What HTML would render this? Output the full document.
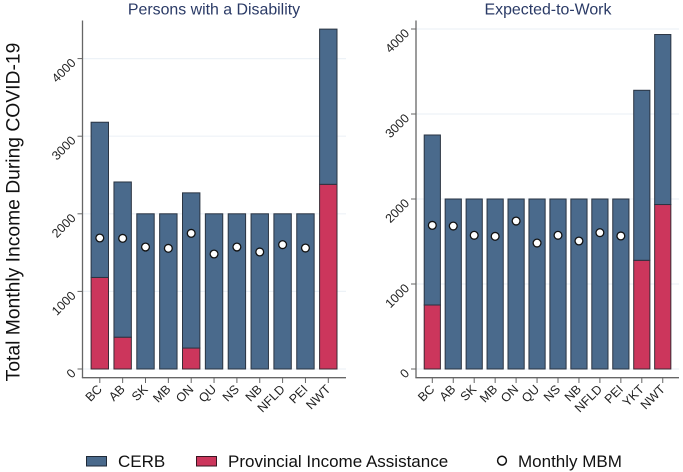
<!DOCTYPE html>
<html>
<head>
<meta charset="utf-8">
<title>Total Monthly Income During COVID-19</title>
<style>
html,body{margin:0;padding:0;background:#fff;width:683px;height:472px;overflow:hidden}
svg{display:block}
text{font-family:"Liberation Sans",Arial,sans-serif}
</style>
</head>
<body>
<svg id="chart" width="683" height="472" viewBox="0 0 683 472" xmlns="http://www.w3.org/2000/svg">
  <text transform="translate(19.5,212) rotate(-90)" text-anchor="middle" font-size="19.3" fill="#111">Total Monthly Income During COVID-19</text>
  <g>
    <rect x="86.5" y="456.5" width="20" height="9.5" fill="#4a6a8c" stroke="#1f2a38" stroke-width="1"/>
    <text x="118" y="467" font-size="17" fill="#111">CERB</text>
    <rect x="196.5" y="456.5" width="20" height="9.5" fill="#cc365c" stroke="#3a1522" stroke-width="1"/>
    <text x="228" y="467" font-size="17" fill="#111">Provincial Income Assistance</text>
    <circle cx="502" cy="460.7" r="4.4" fill="#fff" stroke="#111" stroke-width="1.5"/>
    <text x="518" y="467" font-size="17" fill="#111">Monthly MBM</text>
  </g>
</svg>
<script>
var ticks = [0, 1000, 2000, 3000, 4000];

var disabilityCategories = ['BC','AB','SK','MB','ON','QU','NS','NB','NFLD','PEI','NWT'];
var disabilityCerb = [2000, 2000, 2000, 2000, 2000, 2000, 2000, 2000, 2000, 2000, 2000];
var disabilityProvincial = [1180, 410, 0, 0, 270, 0, 0, 0, 0, 0, 2380];
var disabilityMbm = [1688, 1684, 1572, 1555, 1748, 1482, 1572, 1508, 1602, 1559, null];

var workCategories = ['BC','AB','SK','MB','ON','QU','NS','NB','NFLD','PEI','YKT','NWT'];
var workCerb = [2000, 2000, 2000, 2000, 2000, 2000, 2000, 2000, 2000, 2000, 2000, 2000];
var workProvincial = [753, 0, 0, 0, 0, 0, 0, 0, 0, 0, 1279, 1935];
var workMbm = [1690, 1682, 1573, 1561, 1741, 1482, 1573, 1506, 1604, 1565, null, null];

var svg = document.getElementById('chart');
var NS = 'http://www.w3.org/2000/svg';

function make(parent, tag, attrs) {
  var el = document.createElementNS(NS, tag);
  for (var k in attrs) el.setAttribute(k, attrs[k]);
  parent.appendChild(el);
  return el;
}

function drawPanel(cfg) {
  var g = make(svg, 'g', {});
  
  

  function yScale(v) { return cfg.y0 - v * cfg.pxPerUnit; }
  function xScale(i) { return cfg.firstCenter + i * cfg.step; }

  var title = make(g, 'text', {x: cfg.titleX, y: 14.5, 'text-anchor': 'middle', 'font-size': 15.9, fill: '#2a3a66'});
  
  
  title.textContent = cfg.title;

  ticks.forEach(function (t) {
    var y = yScale(t);
    var grid = make(g, 'line', {x1: cfg.axisX, x2: cfg.axisEnd, y1: y, y2: y, stroke: '#edf2f7', 'stroke-width': 1.2});
    
    
  });

  cfg.categories.forEach(function (cat, i) {
    var cx = xScale(i), left = cx - cfg.barWidth / 2;
    var prov = cfg.provincial[i], cerb = cfg.cerb[i];
    if (prov > 0) {
      var pb = make(g, 'rect', {x: left, y: yScale(prov), width: cfg.barWidth, height: yScale(0) - yScale(prov), fill: '#cc365c', stroke: '#3a2a35', 'stroke-width': 1});
      
      
    }
    var cb = make(g, 'rect', {x: left, y: yScale(prov + cerb), width: cfg.barWidth, height: yScale(prov) - yScale(prov + cerb), fill: '#4a6a8c', stroke: '#2a3442', 'stroke-width': 1});
    
    
  });

  cfg.categories.forEach(function (cat, i) {
    if (cfg.mbm[i] === null) return;
    var dot = make(g, 'circle', {cx: xScale(i), cy: yScale(cfg.mbm[i]), r: 3.9, fill: '#fff', stroke: '#111', 'stroke-width': 1.3});
    
    
  });

  var yAxis = make(g, 'line', {x1: cfg.axisX, x2: cfg.axisX, y1: 20.5, y2: 378, stroke: '#666', 'stroke-width': 1.3});
  
  
  var xAxis = make(g, 'line', {x1: cfg.axisX - 0.6, x2: cfg.axisEnd, y1: 377.7, y2: 377.7, stroke: '#666', 'stroke-width': 1.3});
  
  

  ticks.forEach(function (t) {
    var y = yScale(t);
    var tk = make(g, 'line', {x1: cfg.axisX - 5, x2: cfg.axisX, y1: y, y2: y, stroke: '#666', 'stroke-width': 1});
    
    
    var lb = make(g, 'text', {transform: 'translate(' + (cfg.axisX - 6) + ',' + (y + 5) + ') rotate(-45)', 'text-anchor': 'end', 'font-size': 12.5, fill: '#222'});
    
    
    lb.textContent = t;
  });

  cfg.categories.forEach(function (cat, i) {
    var cx = xScale(i);
    var tk = make(g, 'line', {x1: cx, x2: cx, y1: 377.7, y2: 383, stroke: '#666', 'stroke-width': 1});
    
    
    var lb = make(g, 'text', {transform: 'translate(' + (cx + 3) + ',' + 390 + ') rotate(-45)', 'text-anchor': 'end', 'font-size': 12.5, fill: '#222'});
    
    
    lb.textContent = cat;
  });
}

drawPanel({slug: 'disability', title: 'Persons with a Disability', titleX: 214, categories: disabilityCategories, cerb: disabilityCerb, provincial: disabilityProvincial, mbm: disabilityMbm, axisX: 82.5, axisEnd: 346, y0: 369, pxPerUnit: 0.0776, firstCenter: 99.8, step: 22.85, barWidth: 17.4});
drawPanel({slug: 'expected-to-work', title: 'Expected-to-Work', titleX: 548, categories: workCategories, cerb: workCerb, provincial: workProvincial, mbm: workMbm, axisX: 416, axisEnd: 679, y0: 369, pxPerUnit: 0.085, firstCenter: 432.3, step: 20.95, barWidth: 16.2});
</script>
</body>
</html>
